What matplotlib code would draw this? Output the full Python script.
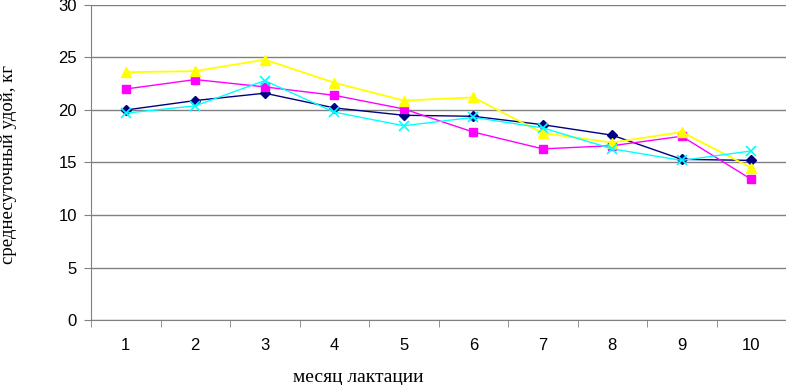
import matplotlib
matplotlib.use("Agg")
import matplotlib.pyplot as plt
from matplotlib.ticker import FixedLocator

months = [1, 2, 3, 4, 5, 6, 7, 8, 9, 10]
s_navy = [20.0, 20.9, 21.6, 20.2, 19.5, 19.4, 18.6, 17.6, 15.3, 15.2]
s_magenta = [22.0, 22.9, 22.2, 21.4, 20.1, 17.9, 16.3, 16.6, 17.5, 13.4]
s_yellow = [23.6, 23.7, 24.8, 22.6, 20.9, 21.2, 17.8, 16.9, 17.9, 14.5]
s_cyan = [19.7, 20.4, 22.8, 19.8, 18.5, 19.3, 18.3, 16.3, 15.2, 16.1]

fig = plt.figure(figsize=(7.86, 3.85), dpi=100)
ax = fig.add_axes([91/786, 65/385, 695/786, 315/385])

ax.plot(months, s_navy, color="#000080", marker="D", markersize=5, lw=1)
ax.plot(months, s_magenta, color="#FF00FF", marker="s", markersize=5.5, lw=1)
ax.plot(months, s_yellow, color="#FFFF00", marker="^", markersize=7, lw=1.3)
ax.plot(months, s_cyan, color="#00FFFF", marker="x", markersize=7, mew=1.2, lw=1)

ax.set_xlim(0.5, 10.5)
ax.set_ylim(0, 30)
ax.set_yticks(range(0, 31, 5))
ax.set_xticks(months)
ax.xaxis.set_minor_locator(FixedLocator([m + 0.5 for m in range(0, 11)]))
ax.tick_params(axis="x", which="major", length=0, pad=13, labelsize=12)
ax.tick_params(axis="x", which="minor", length=5, color="#808080", direction="out")
ax.tick_params(axis="y", length=5, color="#808080", labelsize=12, pad=5)
for lab in ax.get_xticklabels() + ax.get_yticklabels():
    lab.set_fontfamily("Liberation Sans")

ax.grid(axis="y", color="#808080", lw=1)
ax.set_axisbelow(True)
for s in ["top", "right"]:
    ax.spines[s].set_visible(False)
for s in ["left", "bottom"]:
    ax.spines[s].set_color("#808080")

fig.text(358/786, 1 - 378/385, "месяц лактации", family="Liberation Serif",
         fontsize=14, ha="center", va="center")
fig.text(9/786, 1 - 164/385, "среднесуточный удой, кг", family="Liberation Serif",
         fontsize=13.5, rotation=90, ha="center", va="center")

fig.savefig("out.png", dpi=100)
